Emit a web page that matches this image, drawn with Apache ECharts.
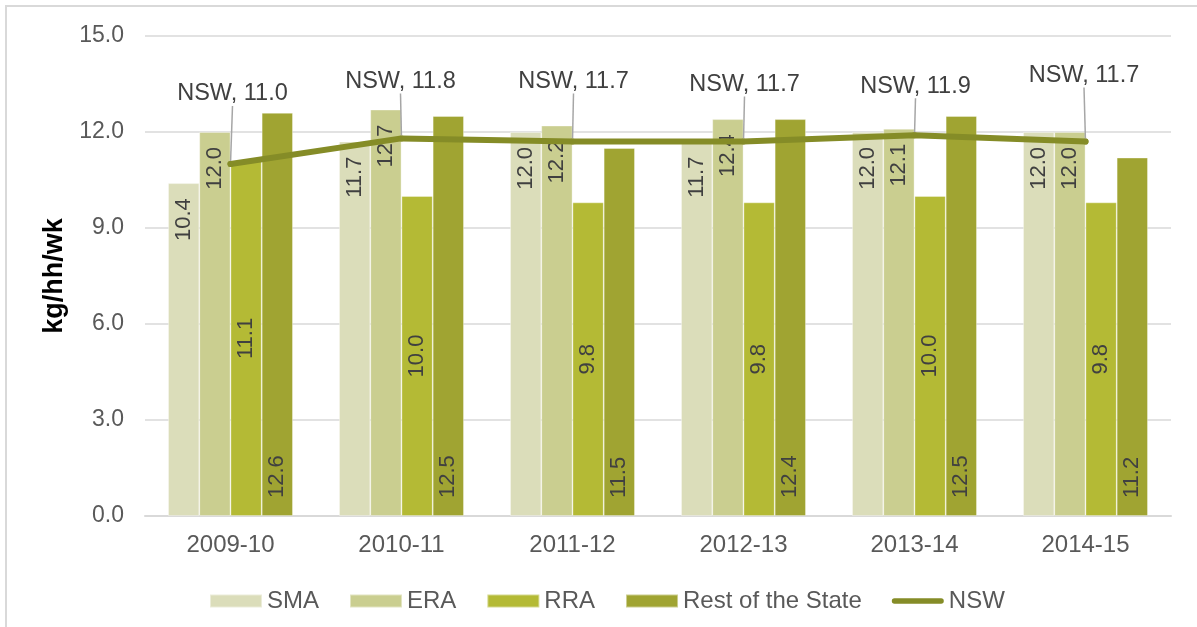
<!DOCTYPE html>
<html>
<head>
<meta charset="utf-8">
<script src="https://cdn.jsdelivr.net/npm/echarts@6/dist/echarts.min.js"></script>
<style>
  html, body { margin: 0; padding: 0; background: #fff; }
  #chart { width: 1197px; height: 627px; }
</style>
</head>
<body>
<div id="chart"></div>
<script>
const years = ['2009-10', '2010-11', '2011-12', '2012-13', '2013-14', '2014-15']
const sma = [10.4, 11.7, 12.0, 11.7, 12.0, 12.0]
const era = [12.0, 12.7, 12.2, 12.4, 12.1, 12.0]
const rra = [11.1, 10.0, 9.8, 9.8, 10.0, 9.8]
const rest = [12.6, 12.5, 11.5, 12.4, 12.5, 11.2]
const nsw = [11.0, 11.8, 11.7, 11.7, 11.9, 11.7]
const yTicks = [0, 3, 6, 9, 12, 15]

// where the NSW callouts sit relative to their default 'top' spot
const nswLabelShift = [[2, -50], [-1, -37], [1, -40], [1, -37], [1, -29], [-1.5, -46]]

const font = "'Liberation Sans', Arial, sans-serif"
const fmt = v => Number(v).toFixed(1)
const lineColor = '#858C27'

function barLabel(position, align, distance) {
  return {
    show: true,
    position: position,
    rotate: 90,
    align: align,
    verticalAlign: 'middle',
    distance: distance,
    fontSize: 22,
    fontFamily: font,
    color: '#404040',
    formatter: p => fmt(p.value)
  }
}

function barSeries(name, data, color, label) {
  return {
    name: name,
    type: 'bar',
    data: data,
    barGap: '0%',
    barCategoryGap: '27%',
    itemStyle: { color: color, borderColor: 'rgba(255,255,255,0.45)', borderWidth: 0.8 },
    label: label
  }
}

const chart = echarts.init(document.getElementById('chart'))
chart.setOption({
  animation: false,
  textStyle: { fontFamily: font },
  graphic: [{
    type: 'rect',
    shape: { x: 6, y: 6, width: 1400, height: 1000 },
    style: { fill: 'none', stroke: '#D9D9D9', lineWidth: 2 },
    silent: true
  }],
  grid: { left: 145, right: 26, top: 36, bottom: 111 },
  legend: {
    left: 204,
    top: 584,
    itemWidth: 52,
    itemHeight: 13,
    itemGap: 30,
    symbolKeepAspect: true,
    textStyle: { fontSize: 24, color: '#595959', fontFamily: font },
    data: [
      { name: 'SMA', icon: 'rect' },
      { name: 'ERA', icon: 'rect' },
      { name: 'RRA', icon: 'rect' },
      { name: 'Rest of the State', icon: 'rect' },
      { name: 'NSW', icon: 'path://M3,0 H55 A3,3 0 0 1 55,6 H3 A3,3 0 0 1 3,0 Z' }
    ]
  },
  xAxis: {
    type: 'category',
    data: years,
    axisLine: { lineStyle: { color: '#D9D9D9', width: 2 } },
    axisTick: { show: false },
    axisLabel: { fontSize: 24, color: '#595959', margin: 17, fontFamily: font }
  },
  yAxis: {
    type: 'value',
    min: yTicks[0],
    max: yTicks[yTicks.length - 1],
    interval: yTicks[1] - yTicks[0],
    name: 'kg/hh/wk',
    nameLocation: 'middle',
    nameGap: 74,
    nameTextStyle: { fontSize: 27, fontWeight: 'bold', color: '#000', fontFamily: font },
    axisLine: { show: false },
    axisTick: { show: false },
    axisLabel: { fontSize: 23, color: '#595959', margin: 21, formatter: v => fmt(v), fontFamily: font },
    splitLine: { lineStyle: { color: '#D9D9D9', width: 1.5 } }
  },
  series: [
    barSeries('SMA', sma, '#DBDDBA', barLabel('insideTop', 'right', 15)),
    barSeries('ERA', era, '#CACE90', barLabel('insideTop', 'right', 15)),
    barSeries('RRA', rra, '#B4BA35', barLabel('inside', 'center', 0)),
    barSeries('Rest of the State', rest, '#A0A432', barLabel('insideBottom', 'left', 18)),
    {
      name: 'NSW',
      type: 'line',
      data: nsw,
      symbol: 'circle',
      symbolSize: 6,
      showSymbol: true,
      z: 5,
      lineStyle: { color: lineColor, width: 6, cap: 'round' },
      itemStyle: { color: lineColor },
      label: {
        show: true,
        position: 'top',
        fontSize: 23.5,
        fontFamily: font,
        color: '#404040',
        formatter: p => p.seriesName + ', ' + fmt(p.value)
      },
      labelLine: { show: true, lineStyle: { color: '#A6A6A6', width: 1.5 } },
      labelLayout: p => ({ dx: nswLabelShift[p.dataIndex][0], dy: nswLabelShift[p.dataIndex][1] })
    }
  ]
})
</script>
</body>
</html>
